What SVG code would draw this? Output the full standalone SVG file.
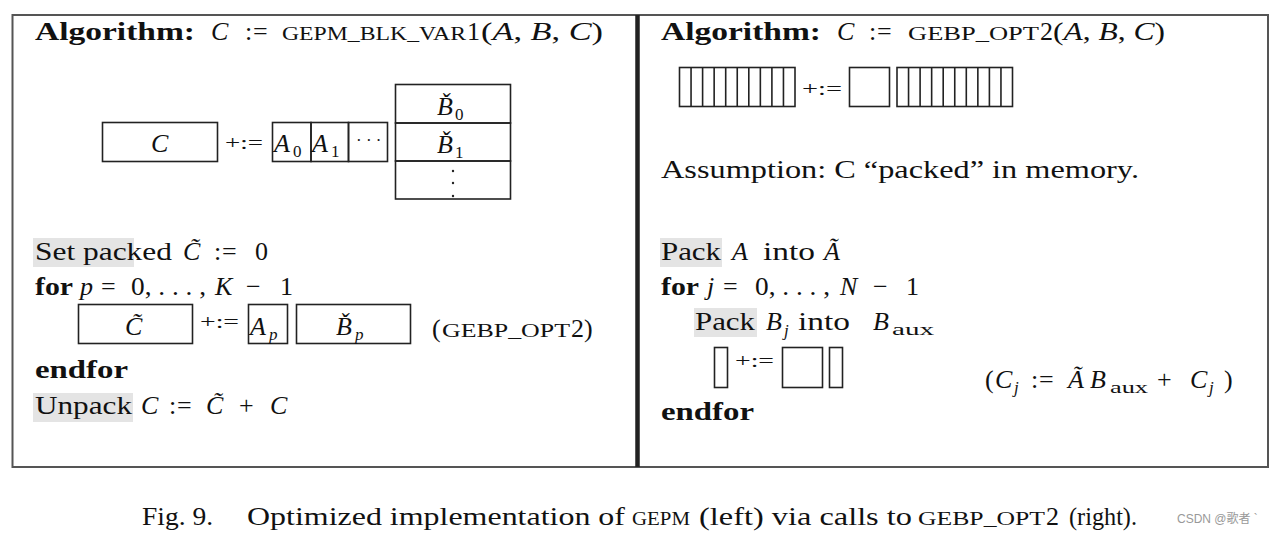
<svg xmlns="http://www.w3.org/2000/svg" width="1287" height="536" viewBox="0 0 1287 536">
<style>
text{font-family:"Liberation Serif","DejaVu Serif",serif;font-size:26px;fill:#111}
.b{font-weight:bold}
.i{font-style:italic}
.sc{font-size:19px}
.sub{font-size:17px}
.op{font-size:19px}
.box{fill:none;stroke:#222;stroke-width:1.6}
.hl{fill:#e4e4e4}
.wm{font-family:"Liberation Sans","Noto Sans CJK SC",sans-serif;font-size:12px;fill:#999}
</style>
<rect width="1287" height="536" fill="#fff"/>
<rect x="12.5" y="15" width="1255.5" height="452" fill="none" stroke="#555" stroke-width="2"/>
<line x1="637.5" y1="15" x2="637.5" y2="467" stroke="#222" stroke-width="4.5"/>
<g id="connectors"/>

<g id="left-title">
<text x="35" y="40" class="b" textLength="160" lengthAdjust="spacingAndGlyphs">Algorithm:</text>
<text x="211" y="40" class="i">C</text>
<text x="245" y="40">:</text><text x="253" y="40">=</text>
<text x="282" y="40" class="sc" textLength="184" lengthAdjust="spacingAndGlyphs">GEPM_BLK_VAR</text>
<text x="467" y="40">1</text>
<text x="481" y="40" textLength="122" lengthAdjust="spacingAndGlyphs">(<tspan class="i">A</tspan>, <tspan class="i">B</tspan>, <tspan class="i">C</tspan>)</text>
</g>

<g id="left-diagram">
<rect class="box" x="102.5" y="122.5" width="115" height="39"/>
<text x="151" y="152" class="i">C</text>
<text x="225" y="149" class="op" textLength="38" lengthAdjust="spacingAndGlyphs">+:=</text>
<rect class="box" x="272.5" y="122.5" width="38.5" height="39"/>
<rect class="box" x="311" y="122.5" width="37.5" height="39"/>
<rect class="box" x="348.5" y="122.5" width="39" height="39"/>
<text x="274" y="152" class="i">A</text><text x="293" y="157" class="sub">0</text>
<text x="312" y="152" class="i">A</text><text x="331" y="157" class="sub">1</text>
<text x="356" y="146" class="sub">· · ·</text>
<rect class="box" x="395.5" y="84.5" width="115" height="38.5"/>
<rect class="box" x="395.5" y="123" width="115" height="38"/>
<rect class="box" x="395.5" y="161" width="115" height="38"/>
<text x="437" y="115" class="i">B̌</text><text x="455" y="120" class="sub">0</text>
<text x="437" y="153" class="i">B̌</text><text x="455" y="158" class="sub">1</text>
<circle cx="453" cy="171" r="1.2" fill="#222"/>
<circle cx="453" cy="183" r="1.2" fill="#222"/>
<circle cx="453" cy="196" r="1.2" fill="#222"/>
</g>

<g id="left-code">
<rect class="hl" x="33" y="238" width="101" height="29"/>
<text x="35" y="260" textLength="137" lengthAdjust="spacingAndGlyphs">Set packed</text>
<text x="183" y="260" class="i">C̃</text>
<text x="214" y="260">:</text><text x="222" y="260">=</text>
<text x="255" y="260">0</text>

<text x="35" y="295" class="b" textLength="38" lengthAdjust="spacingAndGlyphs">for</text>
<text x="80" y="295" class="i">p</text>
<text x="101" y="295">=</text>
<text x="131" y="295" textLength="75" lengthAdjust="spacingAndGlyphs">0, . . . ,</text>
<text x="215" y="295" class="i">K</text>
<text x="246" y="295">−</text>
<text x="280" y="295">1</text>

<rect class="box" x="78.5" y="304.5" width="114" height="39"/>
<text x="125" y="335" class="i">C̃</text>
<text x="200" y="328" class="op" textLength="39" lengthAdjust="spacingAndGlyphs">+:=</text>
<rect class="box" x="248.5" y="304.5" width="39" height="39"/>
<text x="250" y="335" class="i">A</text><text x="269" y="340" class="sub i">p</text>
<rect class="box" x="296.5" y="304.5" width="114" height="39"/>
<text x="336" y="335" class="i">B̌</text><text x="355" y="340" class="sub i">p</text>
<text x="432" y="337">(</text>
<text x="442" y="337" class="sc" textLength="128" lengthAdjust="spacingAndGlyphs">GEBP_OPT</text>
<text x="571" y="337">2</text>
<text x="584" y="337">)</text>

<text x="35" y="378" class="b" textLength="93" lengthAdjust="spacingAndGlyphs">endfor</text>

<rect class="hl" x="33" y="393" width="100" height="29"/>
<text x="35" y="414" textLength="97" lengthAdjust="spacingAndGlyphs">Unpack</text>
<text x="141" y="414" class="i">C</text>
<text x="169" y="414">:</text><text x="177" y="414">=</text>
<text x="206" y="414" class="i">C̃</text>
<text x="239" y="414">+</text>
<text x="270" y="414" class="i">C</text>
</g>

<g id="right-title">
<text x="661" y="40" class="b" textLength="160" lengthAdjust="spacingAndGlyphs">Algorithm:</text>
<text x="837" y="40" class="i">C</text>
<text x="869" y="40">:</text><text x="877" y="40">=</text>
<text x="908" y="40" class="sc" textLength="131" lengthAdjust="spacingAndGlyphs">GEBP_OPT</text>
<text x="1040" y="40">2</text>
<text x="1053" y="40" textLength="112" lengthAdjust="spacingAndGlyphs">(<tspan class="i">A</tspan>, <tspan class="i">B</tspan>, <tspan class="i">C</tspan>)</text>
</g>

<g id="right-diagram">
<rect class="box" x="679.5" y="67.5" width="115.5" height="39"/>
<path class="box" d="M691.05 67.5V106.5M702.6 67.5V106.5M714.15 67.5V106.5M725.7 67.5V106.5M737.25 67.5V106.5M748.8 67.5V106.5M760.35 67.5V106.5M771.9 67.5V106.5M783.45 67.5V106.5"/>
<text x="802" y="95" class="op" textLength="40" lengthAdjust="spacingAndGlyphs">+:=</text>
<rect class="box" x="849.5" y="67.5" width="40" height="39"/>
<rect class="box" x="897" y="67.5" width="115.5" height="39"/>
<path class="box" d="M908.55 67.5V106.5M920.1 67.5V106.5M931.65 67.5V106.5M943.2 67.5V106.5M954.75 67.5V106.5M966.3 67.5V106.5M977.85 67.5V106.5M989.4 67.5V106.5M1000.95 67.5V106.5"/>
</g>

<g id="right-code">
<text x="661" y="178" textLength="478" lengthAdjust="spacingAndGlyphs">Assumption: C “packed” in memory.</text>

<rect class="hl" x="660" y="238" width="62" height="29"/>
<text x="661" y="260" textLength="60" lengthAdjust="spacingAndGlyphs">Pack</text>
<text x="732" y="260" class="i">A</text>
<text x="763" y="260" textLength="52" lengthAdjust="spacingAndGlyphs">into</text>
<text x="824" y="260" class="i">Ã</text>

<text x="661" y="295" class="b" textLength="38" lengthAdjust="spacingAndGlyphs">for</text>
<text x="707" y="295" class="i">j</text>
<text x="723" y="295">=</text>
<text x="755" y="295" textLength="75" lengthAdjust="spacingAndGlyphs">0, . . . ,</text>
<text x="840" y="295" class="i">N</text>
<text x="873" y="295">−</text>
<text x="906" y="295">1</text>

<rect class="hl" x="694" y="308" width="63" height="29"/>
<text x="695" y="330" textLength="60" lengthAdjust="spacingAndGlyphs">Pack</text>
<text x="766" y="330" class="i">B</text><text x="784" y="336" class="sub i">j</text>
<text x="798" y="330" textLength="52" lengthAdjust="spacingAndGlyphs">into</text>
<text x="873" y="330" class="i">B</text><text x="892" y="335" class="sub" textLength="42" lengthAdjust="spacingAndGlyphs">aux</text>

<rect class="box" x="714.5" y="347.5" width="13" height="40"/>
<text x="735" y="367" class="op" textLength="39" lengthAdjust="spacingAndGlyphs">+:=</text>
<rect class="box" x="782.5" y="347.5" width="40" height="40"/>
<rect class="box" x="829.5" y="347.5" width="13" height="40"/>

<text x="985" y="388">(</text>
<text x="995" y="388" class="i">C</text><text x="1014" y="393" class="sub i">j</text>
<text x="1031" y="388">:</text><text x="1039" y="388">=</text>
<text x="1068" y="388" class="i">Ã</text>
<text x="1090" y="388" class="i">B</text><text x="1110" y="393" class="sub" textLength="38" lengthAdjust="spacingAndGlyphs">aux</text>
<text x="1157" y="388">+</text>
<text x="1190" y="388" class="i">C</text><text x="1209" y="393" class="sub i">j</text>
<text x="1224" y="388">)</text>

<text x="661" y="420" class="b" textLength="93" lengthAdjust="spacingAndGlyphs">endfor</text>
</g>

<g id="caption">
<text x="142" y="525" textLength="71" lengthAdjust="spacingAndGlyphs">Fig. 9.</text>
<text x="247" y="525" textLength="378" lengthAdjust="spacingAndGlyphs">Optimized implementation of</text>
<text x="632" y="525" class="sc" textLength="58" lengthAdjust="spacingAndGlyphs">GEPM</text>
<text x="699" y="525" textLength="213" lengthAdjust="spacingAndGlyphs">(left) via calls to</text>
<text x="918" y="525" class="sc" textLength="127" lengthAdjust="spacingAndGlyphs">GEBP_OPT</text>
<text x="1046" y="525">2</text>
<text x="1069" y="525" textLength="68" lengthAdjust="spacingAndGlyphs">(right).</text>
<text x="1177" y="523" class="wm">CSDN @歌者 `</text>
</g>
</svg>
